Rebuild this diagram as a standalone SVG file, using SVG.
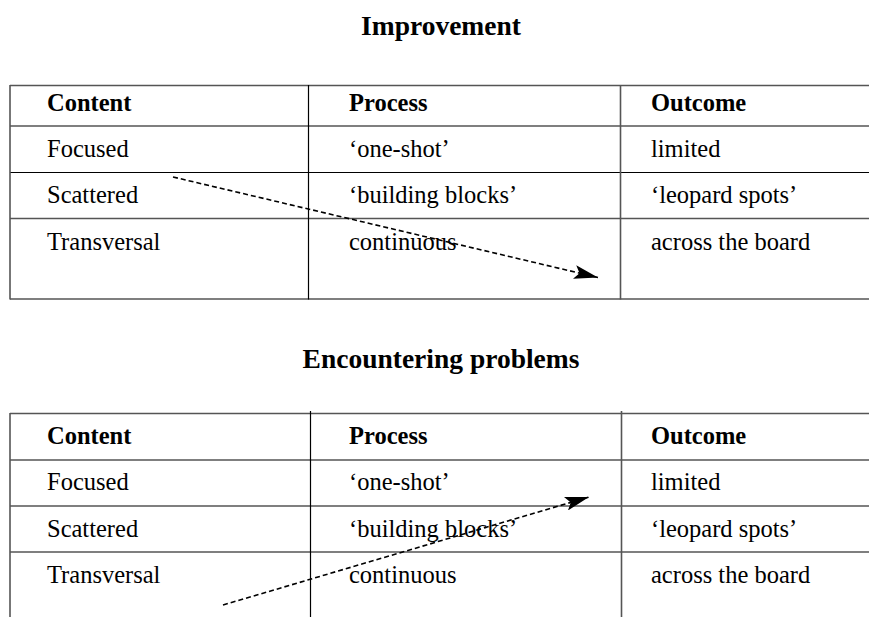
<svg xmlns="http://www.w3.org/2000/svg" width="869" height="617" viewBox="0 0 869 617">
  <style>
    .title { font-family: "Liberation Serif", "Times New Roman", serif; font-size: 27.5px; font-weight: bold; fill: #000; text-anchor: middle; }
    .hd { font-family: "Liberation Serif", "Times New Roman", serif; font-size: 24.5px; font-weight: bold; fill: #000; }
    .tx { font-family: "Liberation Serif", "Times New Roman", serif; font-size: 24.5px; fill: #000; }
    .ln { stroke: #000; stroke-width: 1.2; fill: none; }
    .lg { stroke: #555; stroke-width: 1.6; fill: none; }
    .arrow { stroke: #000; stroke-width: 1.6; stroke-dasharray: 5 3; fill: none; marker-end: url(#head); }
  </style>
  <defs>
    <marker id="head" markerUnits="userSpaceOnUse" markerWidth="25" markerHeight="14" refX="24" refY="7" orient="auto" viewBox="0 0 25 14">
      <path d="M0,0 L24,7 L0,14 L5,7 Z" fill="#000"/>
    </marker>
  </defs>
  <rect width="869" height="617" fill="#fff"/>

  <g id="table1">
    <text class="title" x="441" y="35">Improvement</text>
    <line class="lg" x1="10" y1="85.5" x2="869" y2="85.5"/>
    <line class="ln" x1="10" y1="126" x2="869" y2="126"/>
    <line class="ln" x1="10" y1="172.5" x2="869" y2="172.5"/>
    <line class="lg" x1="10" y1="218.5" x2="869" y2="218.5"/>
    <line class="lg" x1="10" y1="299" x2="869" y2="299"/>
    <line class="lg" x1="10" y1="85" x2="10" y2="299.5"/>
    <line class="ln" x1="308.5" y1="85" x2="308.5" y2="299.5"/>
    <line class="lg" x1="620.5" y1="85" x2="620.5" y2="299.5"/>
    <text class="hd" x="47" y="111">Content</text>
    <text class="hd" x="349" y="111">Process</text>
    <text class="hd" x="651" y="111">Outcome</text>
    <text class="tx" x="47" y="157">Focused</text>
    <text class="tx" x="349" y="157">‘one-shot’</text>
    <text class="tx" x="651" y="157">limited</text>
    <text class="tx" x="47" y="203">Scattered</text>
    <text class="tx" x="349" y="203">‘building blocks’</text>
    <text class="tx" x="651" y="203">‘leopard spots’</text>
    <text class="tx" x="47" y="250">Transversal</text>
    <text class="tx" x="349" y="250">continuous</text>
    <text class="tx" x="651" y="250">across the board</text>
  </g>

  <g id="table2">
    <text class="title" x="441" y="368">Encountering problems</text>
    <line class="lg" x1="10" y1="413.5" x2="869" y2="413.5"/>
    <line class="ln" x1="10" y1="460" x2="869" y2="460"/>
    <line class="ln" x1="10" y1="506" x2="869" y2="506"/>
    <line class="lg" x1="10" y1="552" x2="869" y2="552"/>
    <line class="lg" x1="10" y1="413" x2="10" y2="617"/>
    <line class="ln" x1="310.5" y1="411" x2="310.5" y2="617"/>
    <line class="lg" x1="621.5" y1="411" x2="621.5" y2="617"/>
    <text class="hd" x="47" y="444">Content</text>
    <text class="hd" x="349" y="444">Process</text>
    <text class="hd" x="651" y="444">Outcome</text>
    <text class="tx" x="47" y="490">Focused</text>
    <text class="tx" x="349" y="490">‘one-shot’</text>
    <text class="tx" x="651" y="490">limited</text>
    <text class="tx" x="47" y="536.5">Scattered</text>
    <text class="tx" x="349" y="536.5">‘building blocks’</text>
    <text class="tx" x="651" y="536.5">‘leopard spots’</text>
    <text class="tx" x="47" y="582.5">Transversal</text>
    <text class="tx" x="349" y="582.5">continuous</text>
    <text class="tx" x="651" y="582.5">across the board</text>
  </g>

  <g id="connectors">
    <line class="arrow" x1="173" y1="177" x2="598" y2="277.5"/>
    <line class="arrow" x1="223" y1="605" x2="589" y2="497"/>
  </g>
</svg>
